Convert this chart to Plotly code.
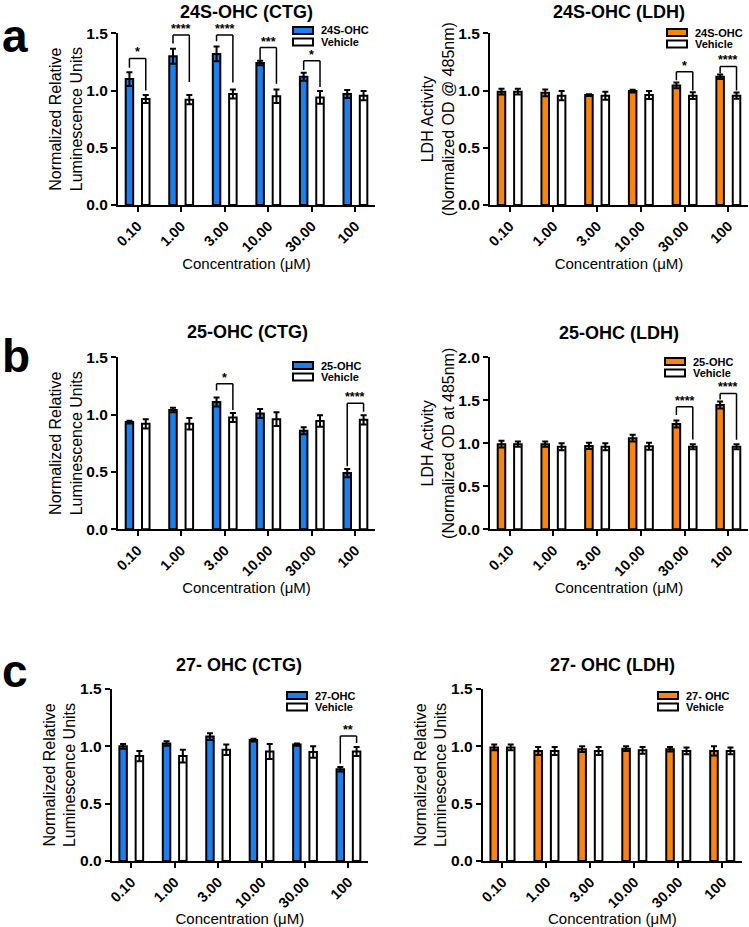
import plotly.graph_objects as go

W, H = 749, 927
FONT = "Arial, 'Liberation Sans', Helvetica, sans-serif"
BLUE = "#1C7FEB"
ORANGE = "#FA8412"

concentrations = ["0.10", "1.00", "3.00", "10.00", "30.00", "100"]

# ---- 24S-OHC ----
ctg_24s = [1.10, 1.30, 1.32, 1.24, 1.12, 0.97]
ctg_24s_sem = [0.06, 0.065, 0.065, 0.02, 0.035, 0.035]
ctg_24s_veh = [0.925, 0.92, 0.97, 0.95, 0.94, 0.955]
ctg_24s_veh_sem = [0.035, 0.04, 0.04, 0.06, 0.055, 0.04]

ldh_24s = [0.99, 0.98, 0.96, 0.995, 1.045, 1.12]
ldh_24s_sem = [0.025, 0.03, 0.008, 0.012, 0.025, 0.02]
ldh_24s_veh = [0.99, 0.955, 0.955, 0.96, 0.955, 0.955]
ldh_24s_veh_sem = [0.025, 0.04, 0.035, 0.035, 0.03, 0.027]

# ---- 25-OHC ----
ctg_25 = [0.935, 1.04, 1.11, 1.01, 0.86, 0.49]
ctg_25_sem = [0.012, 0.02, 0.04, 0.04, 0.03, 0.035]
ctg_25_veh = [0.92, 0.92, 0.975, 0.96, 0.945, 0.955]
ctg_25_veh_sem = [0.04, 0.05, 0.04, 0.06, 0.05, 0.04]

ldh_25 = [0.99, 0.99, 0.97, 1.06, 1.225, 1.445]
ldh_25_sem = [0.04, 0.03, 0.035, 0.04, 0.04, 0.04]
ldh_25_veh = [0.99, 0.96, 0.96, 0.965, 0.96, 0.96]
ldh_25_veh_sem = [0.03, 0.04, 0.04, 0.04, 0.03, 0.03]

# ---- 27-OHC ----
ctg_27 = [1.00, 1.025, 1.085, 1.055, 1.015, 0.80]
ctg_27_sem = [0.02, 0.02, 0.03, 0.012, 0.01, 0.02]
ctg_27_veh = [0.915, 0.915, 0.97, 0.955, 0.95, 0.955]
ctg_27_veh_sem = [0.045, 0.055, 0.045, 0.065, 0.05, 0.04]

ldh_27 = [0.99, 0.96, 0.975, 0.98, 0.975, 0.96]
ldh_27_sem = [0.025, 0.035, 0.025, 0.02, 0.02, 0.04]
ldh_27_veh = [0.99, 0.96, 0.96, 0.965, 0.96, 0.96]
ldh_27_veh_sem = [0.025, 0.035, 0.035, 0.03, 0.03, 0.03]

# significance: (category index, label, bracket level, left leg bottom, right leg bottom)
sig_ctg_24s = [(0, "*", 1.28, 1.20, 1.00), (1, "****", 1.485, 1.41, 1.075),
               (2, "****", 1.485, 1.43, 1.07), (3, "***", 1.375, 1.27, 1.06),
               (4, "*", 1.26, 1.18, 1.03)]
sig_ldh_24s = [(4, "*", 1.165, 1.09, 1.00), (5, "****", 1.21, 1.15, 1.00)]
sig_ctg_25 = [(2, "*", 1.27, 1.21, 1.04), (5, "****", 1.10, 0.55, 1.025)]
sig_ldh_25 = [(4, "****", 1.425, 1.33, 1.045), (5, "****", 1.58, 1.51, 1.04)]
sig_ctg_27 = [(5, "**", 1.09, 0.85, 1.03)]
sig_ldh_27 = []

Y_NRLU = "Normalized Relative<br>Luminescence Units"

panels = [
    dict(title="24S-OHC (CTG)", name="24S-OHC", color=BLUE, t=ctg_24s, te=ctg_24s_sem,
         v=ctg_24s_veh, ve=ctg_24s_veh_sem, ymax=1.5, ytitle=Y_NRLU, sig=sig_ctg_24s,
         box=(118, 375, 33.3, 205), leg=(293, 27), ttl=(246, 12), letter=("a", 0, 36)),
    dict(title="24S-OHC (LDH)", name="24S-OHC", color=ORANGE, t=ldh_24s, te=ldh_24s_sem,
         v=ldh_24s_veh, ve=ldh_24s_veh_sem, ymax=1.5,
         ytitle="LDH Activity<br>(Normalized OD @ 485nm)", sig=sig_ldh_24s,
         box=(490, 748, 33.3, 205), leg=(667, 29), ttl=(619, 12), letter=None),
    dict(title="25-OHC (CTG)", name="25-OHC", color=BLUE, t=ctg_25, te=ctg_25_sem,
         v=ctg_25_veh, ve=ctg_25_veh_sem, ymax=1.5, ytitle=Y_NRLU, sig=sig_ctg_25,
         box=(118, 375, 357.3, 529.3), leg=(293, 362), ttl=(247, 332), letter=("b", 0, 356)),
    dict(title="25-OHC (LDH)", name="25-OHC", color=ORANGE, t=ldh_25, te=ldh_25_sem,
         v=ldh_25_veh, ve=ldh_25_veh_sem, ymax=2.0,
         ytitle="LDH Activity<br>(Normalized OD at 485nm)", sig=sig_ldh_25,
         box=(490, 748, 357.3, 529.3), leg=(665, 358), ttl=(619, 333), letter=None),
    dict(title="27- OHC (CTG)", name="27-OHC", color=BLUE, t=ctg_27, te=ctg_27_sem,
         v=ctg_27_veh, ve=ctg_27_veh_sem, ymax=1.5, ytitle=Y_NRLU, sig=sig_ctg_27,
         box=(111.7, 368, 689, 861), leg=(287, 692), ttl=(239, 665), letter=("c", 0, 671)),
    dict(title="27- OHC (LDH)", name="27- OHC", color=ORANGE, t=ldh_27, te=ldh_27_sem,
         v=ldh_27_veh, ve=ldh_27_veh_sem, ymax=1.5, ytitle=Y_NRLU, sig=sig_ldh_27,
         box=(482.7, 742, 689, 861), leg=(658, 692), ttl=(612, 665), letter=None),
]

BARGAP = 0.25
BARGROUPGAP = 0.54
OFF = (1 - BARGAP) / 4
LEG_ROW = 11.5

def px(x):
    return x / W

def py(y):
    return 1 - y / H

fig = go.Figure()
layout = dict(
    width=W, height=H, margin=dict(l=0, r=0, t=0, b=0, autoexpand=False),
    paper_bgcolor="white", plot_bgcolor="white",
    barmode="group", bargap=BARGAP, bargroupgap=BARGROUPGAP,
    showlegend=False, font=dict(family=FONT, color="black"),
)
shapes = []
annotations = []

for k, p in enumerate(panels):
    sfx = "" if k == 0 else str(k + 1)
    xa, ya = "x" + sfx, "y" + sfx
    x0, x1, yt, yb = p["box"]
    err = lambda a: dict(type="data", array=a, visible=True, color="black", thickness=2, width=3)
    fig.add_trace(go.Bar(x=concentrations, y=p["t"], name=p["name"], xaxis=xa, yaxis=ya,
                         marker=dict(color=p["color"], line=dict(color="black", width=2)),
                         error_y=err(p["te"]), offsetgroup="t"))
    fig.add_trace(go.Bar(x=concentrations, y=p["v"], name="Vehicle", xaxis=xa, yaxis=ya,
                         marker=dict(color="white", line=dict(color="black", width=2)),
                         error_y=err(p["ve"]), offsetgroup="v"))
    layout["xaxis" + sfx] = dict(
        domain=[px(x0), px(x1)], anchor=ya, type="category", automargin=False,
        range=[-0.45, 5.45], showline=True, linecolor="black", linewidth=2,
        ticks="outside", ticklen=5, tickwidth=2, tickcolor="black", tickangle=-45,
        tickfont=dict(size=14.5, weight="bold"), showgrid=False, zeroline=False,
        title=dict(text="Concentration (μM)", font=dict(size=15), standoff=4),
    )
    ymax = p["ymax"]
    tv = [i * 0.5 for i in range(int(ymax / 0.5) + 1)]
    layout["yaxis" + sfx] = dict(
        domain=[py(yb), py(yt)], anchor=xa, range=[0, ymax], automargin=False,
        tickvals=tv, ticktext=["%.1f" % v for v in tv],
        showline=True, linecolor="black", linewidth=2,
        ticks="outside", ticklen=5, tickwidth=2, tickcolor="black",
        tickfont=dict(size=15.5, weight="bold"), showgrid=False, zeroline=False,
        title=dict(text=p["ytitle"], font=dict(size=16), standoff=0),
    )
    # significance brackets
    for (i, lab, top, lb, rb) in p["sig"]:
        xl, xr = i - OFF, i + OFF
        ln = dict(color="black", width=1.5)
        shapes.append(dict(type="line", xref=xa, yref=ya, x0=xl, x1=xl, y0=lb, y1=top, line=ln))
        shapes.append(dict(type="line", xref=xa, yref=ya, x0=xl, x1=xr, y0=top, y1=top, line=ln))
        shapes.append(dict(type="line", xref=xa, yref=ya, x0=xr, x1=xr, y0=top, y1=rb, line=ln))
        annotations.append(dict(x=i, y=top, xref=xa, yref=ya, text=lab, showarrow=False,
                                xanchor="center", yanchor="bottom", yshift=-3,
                                font=dict(size=12.5, weight="bold")))
    # legend (manual, Prism style)
    lx, ly = p["leg"]
    for r, (nm, col) in enumerate([(p["name"], p["color"]), ("Vehicle", "white")]):
        top = ly + r * LEG_ROW
        shapes.append(dict(type="rect", xref="paper", yref="paper",
                           x0=px(lx), x1=px(lx + 20), y0=py(top + 7), y1=py(top),
                           fillcolor=col, line=dict(color="black", width=2)))
        annotations.append(dict(x=px(lx + 27), y=py(top + 3.5), xref="paper", yref="paper",
                                text=nm, showarrow=False, xanchor="left", yanchor="middle",
                                borderpad=0, font=dict(size=11, weight="bold")))
    # panel title
    cx, cy = p["ttl"]
    annotations.append(dict(x=px(cx), y=py(cy), xref="paper", yref="paper", text=p["title"],
                            showarrow=False, xanchor="center", yanchor="middle",
                            font=dict(size=18, weight="bold")))
    if p["letter"]:
        L, lxp, lyp = p["letter"]
        annotations.append(dict(x=px(lxp), y=py(lyp), xref="paper", yref="paper", text=L,
                                showarrow=False, xanchor="left", yanchor="middle",
                                font=dict(size=46, weight="bold")))

layout["shapes"] = shapes
layout["annotations"] = annotations
fig.update_layout(**layout)
fig.write_html("out.html", config={"displayModeBar": False},
               post_script="document.body.style.margin='0';document.body.style.overflow='hidden';")
